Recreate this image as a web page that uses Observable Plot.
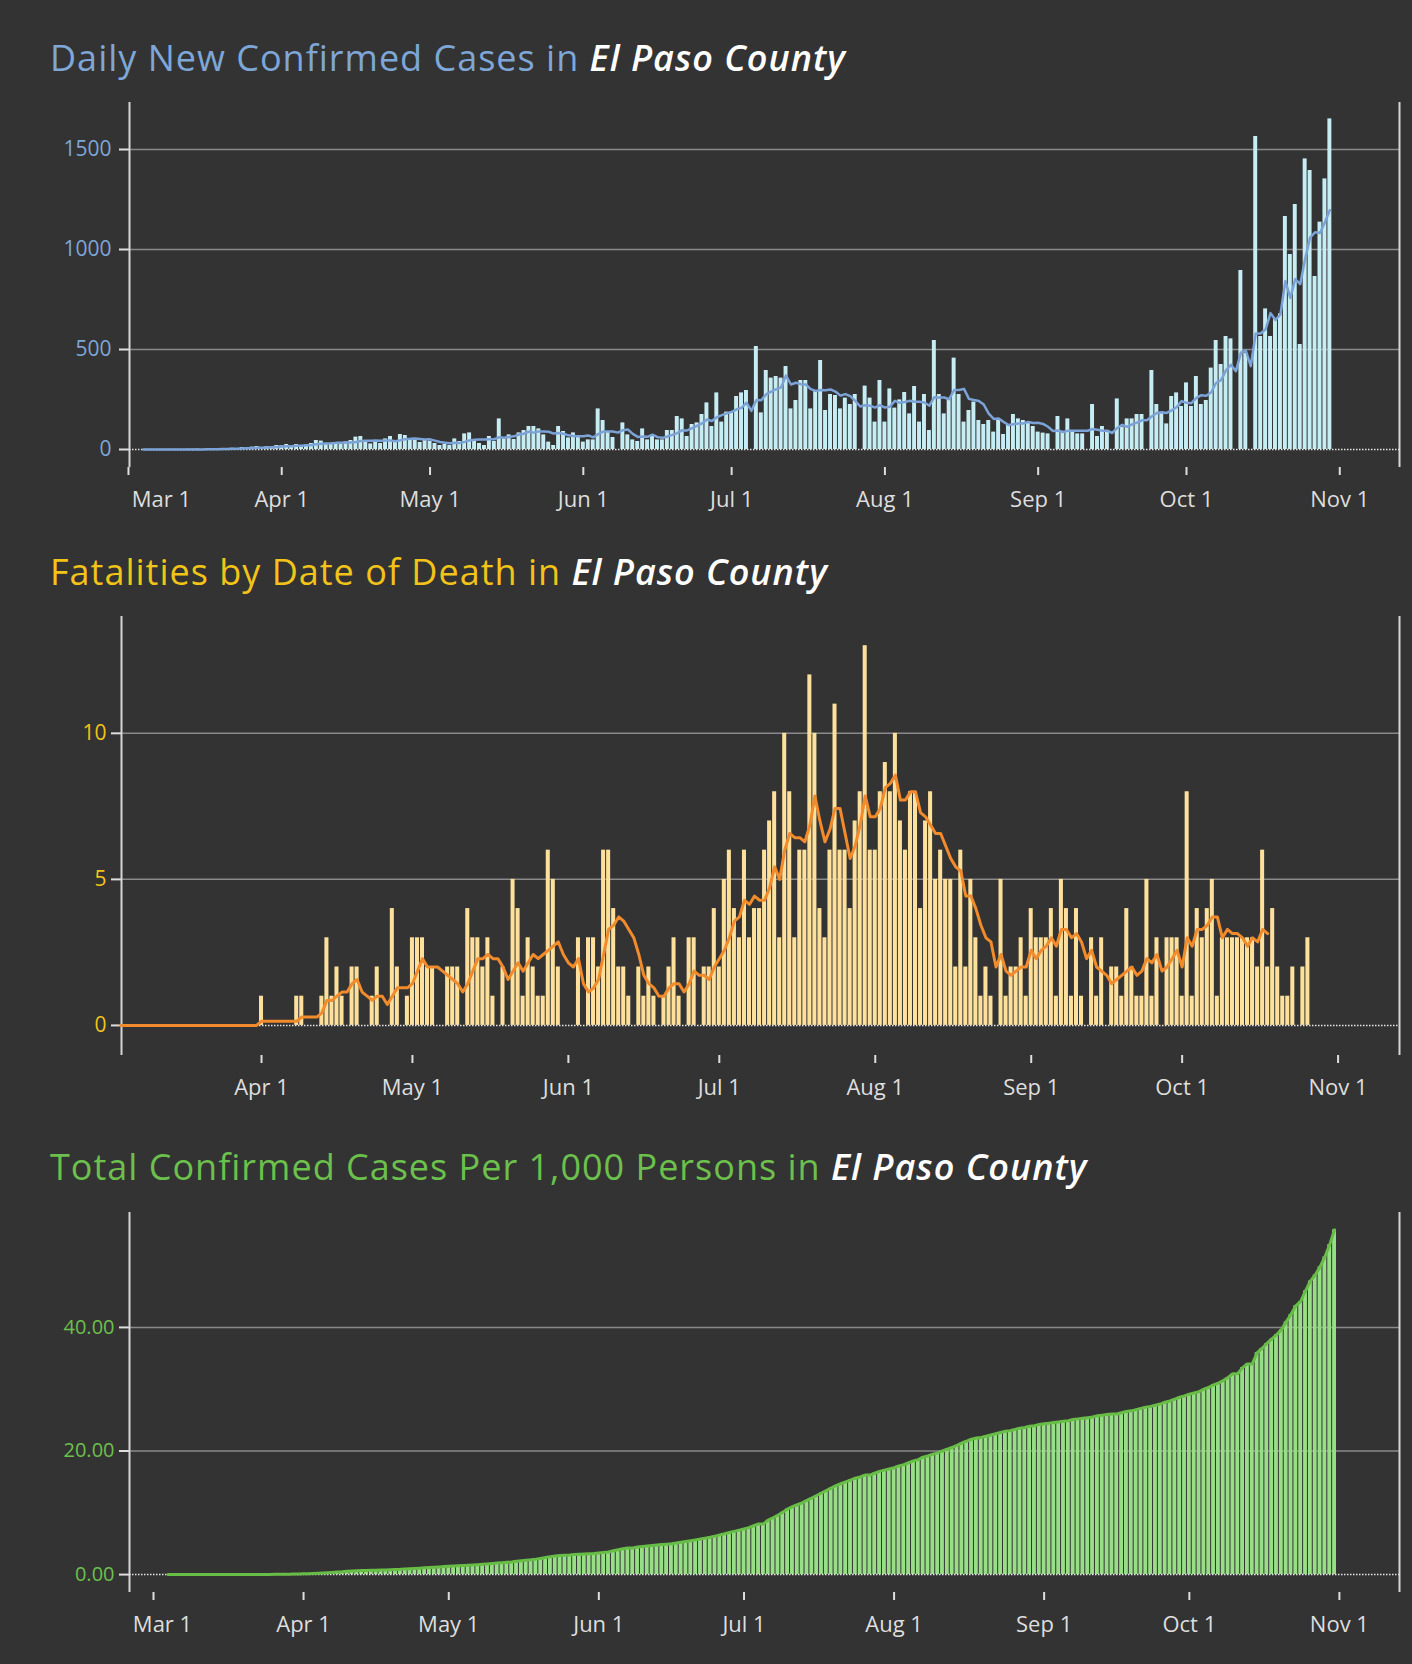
<!DOCTYPE html>
<html>
<head>
<meta charset="utf-8">
<script src="https://cdn.jsdelivr.net/npm/d3@7"></script>
<script src="https://cdn.jsdelivr.net/npm/@observablehq/plot@0.6"></script>
<style>
html, body { margin: 0; padding: 0; background: #333333; }
#page { position: relative; width: 1412px; height: 1664px; background: #333333; overflow: hidden; font-family: "Open Sans", sans-serif; }
.title { position: absolute; left: 50px; font-size: 36px; letter-spacing: 1px; line-height: 1; white-space: nowrap; }
.title em { font-style: italic; font-weight: 600; color: #ffffff; }
.chart { position: absolute; left: 0; }
.chart svg { display: block; overflow: visible; }
.chart g[aria-label^="x-axis"] path, .chart g[aria-label^="x-axis"] line,
.chart g[aria-label^="y-axis"] path, .chart g[aria-label^="y-axis"] line { stroke-width: 2px; }
.chart g[aria-label^="x-axis"] text { font-size: 22px; }
#c1 g[aria-label^="y-axis"] text { fill: #7ea7d8; }
#c2 g[aria-label^="y-axis"] text { fill: #f2c318; }
#c3 g[aria-label^="y-axis"] text { fill: #6cc04c; font-size: 20px; }
</style>
</head>
<body>
<div id="page">
  <div class="title" style="top:40px;color:#7ea7d8">Daily New Confirmed Cases in <em>El Paso County</em></div>
  <div class="chart" id="c1" style="top:80px"></div>
  <div class="title" style="top:554px;color:#f2c318">Fatalities by Date of Death in <em>El Paso County</em></div>
  <div class="chart" id="c2" style="top:596px"></div>
  <div class="title" style="top:1149px;color:#6cc04c">Total Confirmed Cases Per 1,000 Persons in <em>El Paso County</em></div>
  <div class="chart" id="c3" style="top:1190px"></div>
</div>
<script>
// ---------- data ----------
const casesStart = "2020-03-04";
const dailyCases = [
  0,0,0,0,0,0,0,0,0,
  1,1,2,0,3,2,4,3,5,6,4,10,8,12,15,10,14,12,20,
  18,25,15,25,20,22,30,45,42,28,30,35,25,38,45,62,65,40,28,35,30,53,65,35,75,70,45,45,35,45,
  40,30,20,25,20,53,40,78,83,42,30,20,65,40,153,60,73,50,83,95,
  115,115,103,73,37,20,115,90,58,83,62,37,48,48,203,145,87,60,0,133,
  73,48,40,103,48,73,48,48,95,95,165,153,65,125,133,175,233,115,283,137,187,187,265,283,295,0,
  515,183,395,357,365,357,415,203,245,345,345,203,295,445,195,275,270,203,257,225,275,0,317,257,
  137,345,137,303,207,248,285,178,315,137,275,95,545,275,178,255,457,275,137,195,237,145,125,145,87,153,75,125,175,153,145,137,115,87,82,78,0,165,87,153,95,78,78,0,225,65,115,95,0,253,112,153,153,175,175,0,395,
  225,183,128,265,283,215,333,215,365,225,245,407,545,425,565,553,0,895,480,0,1565,565,703,565,653,678,1165,975,1225,525,1453,1395,865,1137,1353,1653
];
const deathsStart = "2020-03-04";
const deathsAverageEnd = "2020-10-18";
const dailyDeaths = [
  0,0,0,0,0,0,0,0,0,0,0,0,0,0,0,0,0,0,0,0,0,0,0,0,0,0,0,0,
  1,0,0,0,0,0,0,1,1,0,0,0,1,3,1,2,1,0,2,2,0,0,1,2,0,0,4,2,0,1,
  3,3,3,2,2,0,0,2,2,2,0,4,3,3,2,3,1,0,2,0,5,4,1,3,2,1,1,6,5,2,
  0,0,0,3,0,3,3,2,6,6,4,2,2,1,0,2,1,2,1,0,1,2,3,1,0,3,3,0,2,2,
  4,2,5,6,4,3,6,3,4,4,6,7,8,3,10,8,3,6,6,12,10,4,3,6,11,6,6,4,7,8,13,6,
  6,8,9,8,10,7,6,8,8,4,7,8,5,6,5,5,2,6,2,5,3,1,2,1,0,5,1,2,2,3,1,4,3,3,3,4,1,5,4,1,4,1,0,3,1,3,0,2,2,1,4,2,1,1,5,1,3,
  0,3,3,3,1,8,1,4,3,4,5,1,3,3,3,3,3,3,3,2,6,2,4,2,1,1,2,0,2,3,0,0,0,0,0
];
const perThousandStart = "2020-03-04";
const casesPerThousand = [
  0,0,0,0,0,0,0,0,0,
  0,0,0,0,0.01,0.01,0.01,0.01,0.02,
  0.02,0.02,0.03,0.03,0.04,0.05,0.06,0.07,0.08,0.10,
  0.12,0.15,0.18,0.22,0.26,0.30,0.35,0.40,0.45,0.52,
  0.58,0.62,0.65,0.68,0.70,0.72,0.74,0.76,0.79,0.82,
  0.85,0.90,0.95,0.99,1.04,1.09,1.14,1.19,1.24,1.29,
  1.34,1.38,1.42,1.46,1.50,1.55,1.60,1.66,1.73,1.80,
  1.86,1.92,1.98,2.05,2.16,2.24,2.32,2.40,2.50,2.62,
  2.75,2.88,3.00,3.08,3.14,3.18,3.24,3.30,3.34,3.38,
  3.42,3.50,3.58,3.66,3.85,4.02,4.18,4.30,4.30,4.47,
  4.55,4.62,4.70,4.78,4.85,4.92,5.00,5.10,5.22,5.35,
  5.48,5.62,5.75,5.90,6.05,6.22,6.42,6.60,6.80,7.00,
  7.2,7.4,7.6,7.9,8.2,8.2,8.8,9.2,9.6,10.1,
  10.6,11.0,11.3,11.6,12.0,12.4,12.8,13.2,13.6,14.0,
  14.4,14.7,15.0,15.3,15.6,15.8,16.1,16.1,16.4,16.7,
  16.9,17.1,17.3,17.6,17.8,18.1,18.4,18.6,19.0,19.2,
  19.5,19.7,20.0,20.3,20.6,20.9,21.3,21.6,21.9,22.1,
  22.2,22.4,22.6,22.8,23.0,23.2,23.3,23.5,23.7,23.8,
  24.0,24.1,24.3,24.4,24.5,24.6,24.7,24.8,24.9,25.1,
  25.2,25.3,25.4,25.5,25.7,25.8,25.9,26.0,26.0,26.2,
  26.4,26.5,26.7,26.9,27.1,27.2,27.4,27.6,27.9,28.1,
  28.4,28.7,28.9,29.2,29.4,29.6,30.0,30.3,30.7,31.0,
  31.4,31.9,32.5,32.5,33.5,34.1,34.1,35.9,36.6,37.4,
  38.1,38.8,39.6,40.9,42.1,43.5,44.2,45.9,47.5,48.5,
  49.8,51.4,53.4,55.8
];
const monthTickLabels = ["2020-03-01","2020-04-01","2020-05-01","2020-06-01","2020-07-01","2020-08-01","2020-09-01","2020-10-01","2020-11-01"];
const casesTicks = [0, 500, 1000, 1500];
const deathTicks = [0, 5, 10];
const perThousandTicks = [0, 20, 40];

// ---------- helpers ----------
function table(start, values) {
  const s = new Date(start);
  return values.map((v, i) => ({date: d3.utcDay.offset(s, i), value: v}));
}
const dayStart = d => d3.utcHour.offset(d.date, -12);
const dayEnd = d => d3.utcHour.offset(d.date, 12);
const monthTicks = monthTickLabels.map(s => new Date(s));
const firstMonth = monthTicks[0];
const fmtMonth = d3.utcFormat("%b %-d");
const labelColor = "#dedede";
const baseStyle = {background: "transparent", color: labelColor, fontSize: "21px", fontFamily: "'Open Sans', sans-serif", overflow: "visible"};
const gridStroke = "#8a8a8a";
const frameStroke = "#d6d6d6";

function chart({data, lineData, xDomain, xTicks, firstLabelDx, yDomain, yTicks, yFormat, yPadding, height, marginTop, marginBottom, marginLeft, barFill, lineStroke, lineWidth, windowed}) {
  const lineOpts = {x: "date", y: "value", stroke: lineStroke, strokeWidth: lineWidth, strokeLinejoin: "round"};
  const hasFirst = firstLabelDx != null;
  const marks = [
    Plot.ruleY(yTicks.filter(t => t !== 0), {stroke: gridStroke, strokeWidth: 1.5}),
    Plot.ruleX(xDomain, {stroke: frameStroke, strokeWidth: 2}),
    Plot.rectY(data, {x1: dayStart, x2: dayEnd, y: "value", fill: barFill, insetLeft: 0.5, insetRight: 0.5}),
    Plot.ruleY([0], {stroke: "#e6e6e6", strokeWidth: 1.5, strokeDasharray: "1.5,1.5"}),
    windowed
      ? Plot.lineY(lineData, Plot.windowY({k: 7, anchor: "end", reduce: "mean"}, lineOpts))
      : Plot.lineY(lineData, lineOpts)
  ];
  if (hasFirst) {
    marks.push(Plot.text([firstMonth], {x: d => d, text: d => fmtMonth(d), frameAnchor: "bottom", lineAnchor: "top", dy: 24, dx: firstLabelDx, fill: labelColor, fontSize: 22}));
  }
  return Plot.plot({
    width: 1412, height, marginTop, marginBottom, marginLeft, marginRight: 13,
    style: baseStyle,
    x: {type: "utc", domain: xDomain, ticks: xTicks, tickFormat: d => (hasFirst && +d === +firstMonth) ? "" : fmtMonth(d), tickSize: 8, tickPadding: 16, label: null},
    y: {domain: yDomain, ticks: yTicks, tickFormat: yFormat, tickSize: 10, tickPadding: yPadding, label: null},
    marks
  });
}

const casesData = table(casesStart, dailyCases);
const deathsData = table(deathsStart, dailyDeaths);
const deathsAvgData = deathsData.filter(d => d.date <= new Date(deathsAverageEnd));
const perThousandData = table(perThousandStart, casesPerThousand);

document.getElementById("c1").append(chart({
  data: casesData, lineData: casesData, windowed: true,
  xDomain: [new Date("2020-03-01T05:00Z"), new Date("2020-11-13T02:00Z")], xTicks: monthTicks, firstLabelDx: 33,
  yDomain: [-90, 1735], yTicks: casesTicks, yFormat: d3.format("d"), yPadding: 8,
  height: 450, marginTop: 22, marginBottom: 63, marginLeft: 129,
  barFill: "#c6edf3", lineStroke: "#7ba3d8", lineWidth: 2.5
}));

document.getElementById("c2").append(chart({
  data: deathsData, lineData: deathsAvgData, windowed: true,
  xDomain: [new Date("2020-03-04T04:00Z"), new Date("2020-11-13T05:00Z")], xTicks: monthTicks.slice(1), firstLabelDx: null,
  yDomain: [-1.03, 14.0], yTicks: deathTicks, yFormat: d3.format("d"), yPadding: 5,
  height: 504, marginTop: 20, marginBottom: 45, marginLeft: 121,
  barFill: "#fde09b", lineStroke: "#f28b2c", lineWidth: 3
}));

document.getElementById("c3").append(chart({
  data: perThousandData, lineData: perThousandData, windowed: false,
  xDomain: [new Date("2020-02-25T01:00Z"), new Date("2020-11-13T10:00Z")], xTicks: monthTicks, firstLabelDx: 9,
  yDomain: [-2.9, 58.6], yTicks: perThousandTicks, yFormat: d3.format(".2f"), yPadding: 5,
  height: 474, marginTop: 22, marginBottom: 72, marginLeft: 129,
  barFill: "#97de87", lineStroke: "#67bd46", lineWidth: 3
}));
</script>
</body>
</html>
